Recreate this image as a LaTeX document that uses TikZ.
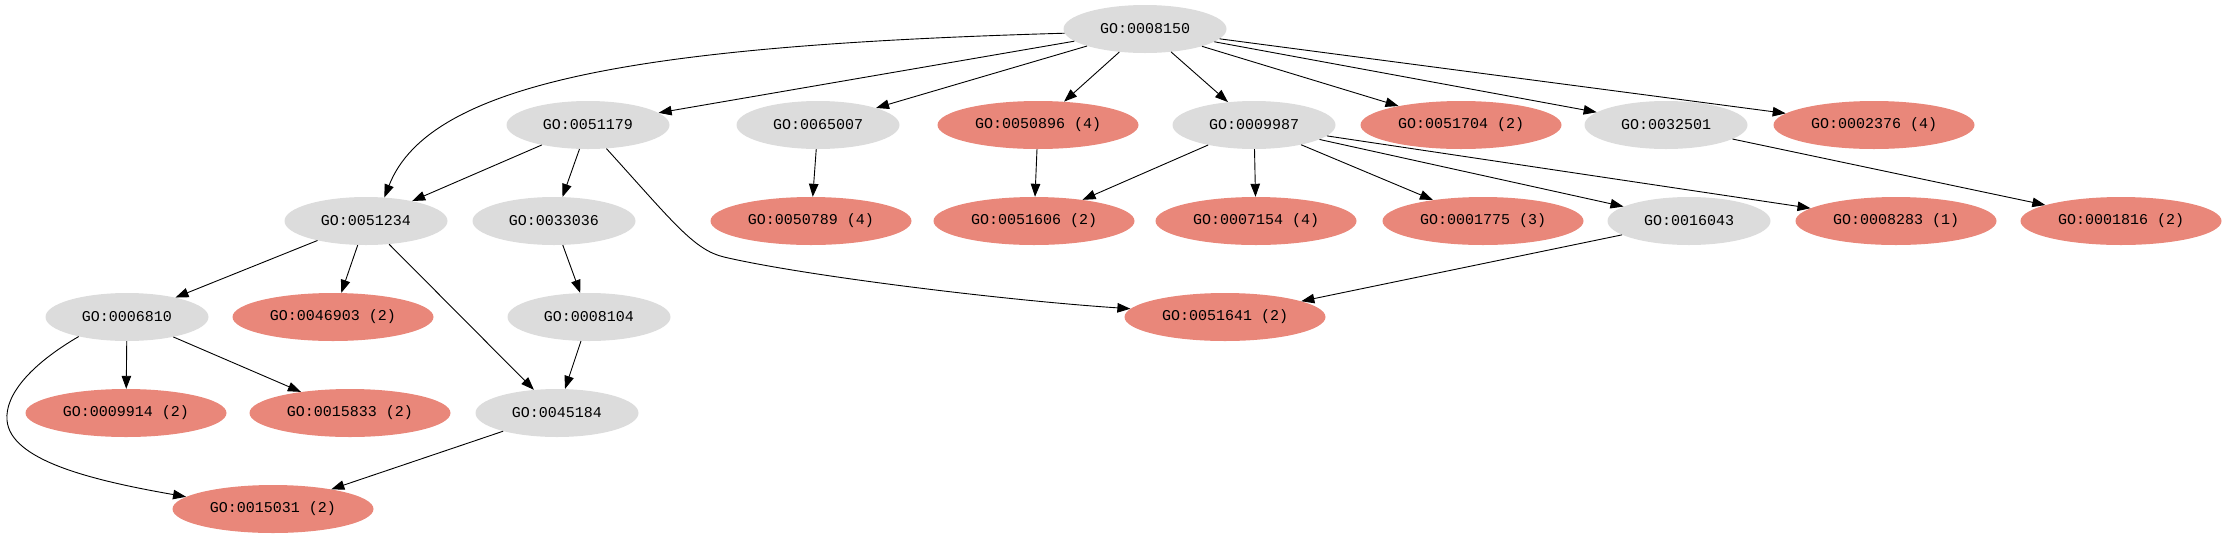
\documentclass[tikz,border=0pt]{standalone}
\usepackage{fontspec}
\setmonofont{Liberation Mono}
\usetikzlibrary{shapes.geometric,arrows.meta}
\definecolor{gonode}{RGB}{220,220,220}
\definecolor{hitnode}{RGB}{233,135,122}
\tikzset{
  term/.style={ellipse, fill=gonode, draw=none, inner sep=0pt,
    minimum width=163pt, minimum height=48pt,
    font=\fontsize{15pt}{16pt}\selectfont\ttfamily},
  hit/.style={term, fill=hitnode, minimum width=201pt},
  edge/.style={line width=0.9pt, -{Triangle[length=13pt,width=9.5pt]}}
}
\begin{document}
\begin{tikzpicture}[x=1pt,y=-1pt]
\useasboundingbox (0,0) rectangle (2225,539);
% row 1
\node[term] (n8150) at (1145,29) {GO:0008150};
% row 2
\node[term] (n51179) at (588,125) {GO:0051179};
\node[term] (n65007) at (818,125) {GO:0065007};
\node[hit]  (n50896) at (1038,125) {GO:0050896 (4)};
\node[term] (n9987) at (1254,125) {GO:0009987};
\node[hit]  (n51704) at (1461,125) {GO:0051704 (2)};
\node[term] (n32501) at (1666,125) {GO:0032501};
\node[hit]  (n2376) at (1874,125) {GO:0002376 (4)};
% row 3
\node[term] (n51234) at (366,221) {GO:0051234};
\node[term] (n33036) at (554,221) {GO:0033036};
\node[hit]  (n50789) at (811,221) {GO:0050789 (4)};
\node[hit]  (n51606) at (1034,221) {GO:0051606 (2)};
\node[hit]  (n7154) at (1256,221) {GO:0007154 (4)};
\node[hit]  (n1775) at (1483,221) {GO:0001775 (3)};
\node[term] (n16043) at (1689,221) {GO:0016043};
\node[hit]  (n8283) at (1896,221) {GO:0008283 (1)};
\node[hit]  (n1816) at (2121,221) {GO:0001816 (2)};
% row 4
\node[term] (n6810) at (127,317) {GO:0006810};
\node[hit]  (n46903) at (333,317) {GO:0046903 (2)};
\node[term] (n8104) at (589,317) {GO:0008104};
\node[hit]  (n51641) at (1225,317) {GO:0051641 (2)};
% row 5
\node[hit]  (n9914) at (126,413) {GO:0009914 (2)};
\node[hit]  (n15833) at (350,413) {GO:0015833 (2)};
\node[term] (n45184) at (557,413) {GO:0045184};
% row 6
\node[hit]  (n15031) at (273,509) {GO:0015031 (2)};

% edges from GO:0008150
\draw[edge] (n8150.-177) .. controls (650,45) and (430,80) .. (n51234.52);
\draw[edge] (n8150) -- (n51179);
\draw[edge] (n8150) -- (n65007);
\draw[edge] (n8150) -- (n50896);
\draw[edge] (n8150) -- (n9987);
\draw[edge] (n8150) -- (n51704);
\draw[edge] (n8150) -- (n32501);
\draw[edge] (n8150) -- (n2376);
% GO:0051179
\draw[edge] (n51179) -- (n51234);
\draw[edge] (n51179) -- (n33036);
\draw[edge] (n51179.-52) .. controls (673,222) and (694,250) .. (724,257)
  .. controls (800,275) and (1000,300) .. (n51641.175);
% others
\draw[edge] (n65007) -- (n50789);
\draw[edge] (n50896) -- (n51606);
\draw[edge] (n9987) -- (n51606);
\draw[edge] (n9987) -- (n7154);
\draw[edge] (n9987) -- (n1775);
\draw[edge] (n9987) -- (n16043);
\draw[edge] (n9987) -- (n8283);
\draw[edge] (n32501) -- (n1816);
\draw[edge] (n16043) -- (n51641);
\draw[edge] (n51234) -- (n6810);
\draw[edge] (n51234) -- (n46903);
\draw[edge] (n51234) -- (n45184);
\draw[edge] (n33036) -- (n8104);
\draw[edge] (n8104) -- (n45184);
\draw[edge] (n6810) -- (n9914);
\draw[edge] (n6810) -- (n15833);
\draw[edge] (n6810.-158) .. controls (30,365) and (5,395) .. (7,420)
  .. controls (10,460) and (90,480) .. (n15031.172);
\draw[edge] (n45184) -- (n15031);
\end{tikzpicture}
\end{document}
